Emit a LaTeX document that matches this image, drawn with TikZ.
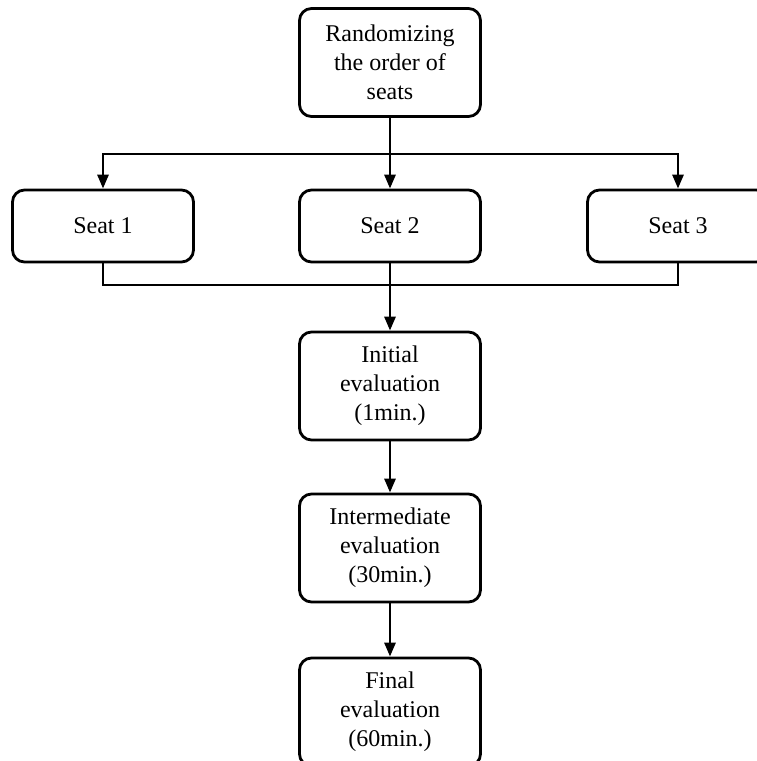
\documentclass[tikz,border=0pt]{standalone}
\usepackage{fontspec}
\setmainfont{Liberation Serif}
\usetikzlibrary{arrows.meta}

\tikzset{
    stagebox/.style={draw, line width=1.4pt, rounded corners=6pt, align=center,
        minimum width=90.5pt, inner sep=0pt,
        font=\fontsize{12}{14.5}\selectfont},
    seatbox/.style={stagebox, minimum height=36pt},
    evalbox/.style={stagebox, minimum height=54pt},
    link/.style={line width=1.4pt},
}

\begin{document}
\begin{tikzpicture}[x=0.5pt, y=-0.5pt, >={Triangle[length=7pt,width=5.5pt]}]

    \useasboundingbox (0,0) rectangle (756,761);

    % randomizing step
    \node[evalbox] (rand) at (390,62.5) {Randomizing\\the order of\\seats};

    % the three seats
    \node[seatbox] (seat1) at (103,226) {Seat 1};
    \node[seatbox] (seat2) at (390,226) {Seat 2};
    \node[seatbox] (seat3) at (678,226) {Seat 3};

    % evaluations
    \node[evalbox] (init)  at (390,386) {Initial\\evaluation\\(1min.)};
    \node[evalbox] (inter) at (390,548) {Intermediate\\evaluation\\(30min.)};
    \node[evalbox] (final) at (390,712) {Final\\evaluation\\(60min.)};

    \coordinate (fork) at (390,154);
    \coordinate (join) at (390,285);

    \draw[link, ->] (rand.south) -- (seat2.north);
    \draw[link, ->] (fork) -| (seat1.north);
    \draw[link, ->] (fork) -| (seat3.north);

    \draw[link] (seat1.south) |- (join);
    \draw[link] (seat3.south) |- (join);
    \draw[link, ->] (seat2.south) -- (init.north);

    \draw[link, ->] (init) -- (inter);
    \draw[link, ->] (inter) -- (final);

\end{tikzpicture}
\end{document}
